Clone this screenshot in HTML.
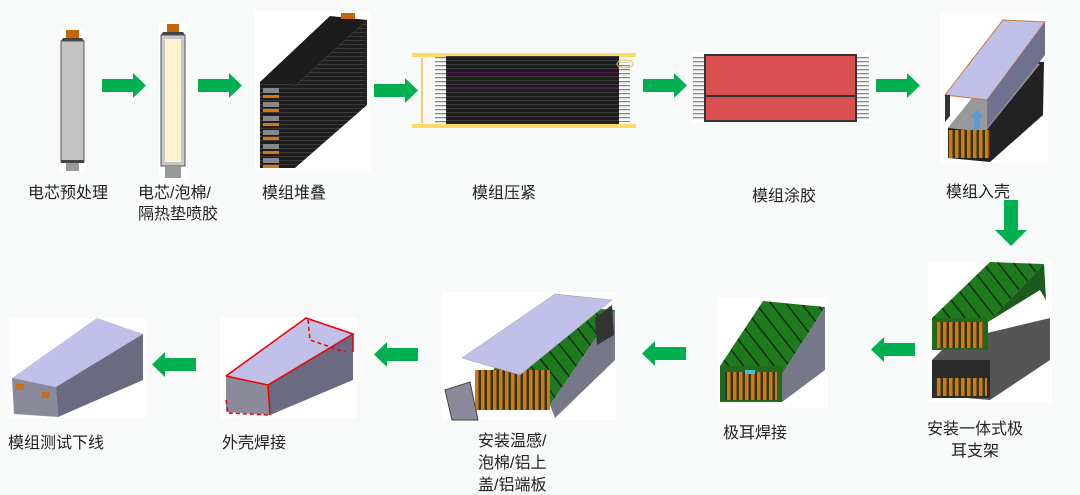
<!DOCTYPE html>
<html><head><meta charset="utf-8"><style>
html,body{margin:0;padding:0;background:#f8fafa}
svg{display:block}
text{font-family:"Liberation Sans","Noto Sans CJK SC",sans-serif;font-size:16px;fill:#222}
</style></head><body>
<svg width="1080" height="495" viewBox="0 0 1080 495" xmlns="http://www.w3.org/2000/svg">
<defs>
<g id="ar"><polygon points="0,6 31,6 31,0 44,12.5 31,25 31,19 0,19" fill="#00b050"/></g>
<pattern id="blk" width="4" height="4" patternUnits="userSpaceOnUse"><rect width="4" height="4" fill="#1e1e1e"/><rect width="4" height="1" fill="#3a3a3a"/></pattern>
<pattern id="wl" width="4" height="4" patternUnits="userSpaceOnUse"><rect width="4" height="4" fill="#f8fafa"/><rect y="1" width="4" height="1.3" fill="#888"/></pattern>
<pattern id="grn" width="12" height="12" patternUnits="userSpaceOnUse" patternTransform="rotate(-38)"><rect width="12" height="12" fill="#1f7a1f"/><rect width="1.5" height="12" fill="#0d2d0d"/></pattern>
<pattern id="org" width="6" height="6" patternUnits="userSpaceOnUse"><rect width="6" height="6" fill="#2a3a20"/><rect x="1" width="3.5" height="6" fill="#d9770e"/></pattern>
</defs>

<!-- row1 arrows -->
<use href="#ar" x="102" y="73"/>
<use href="#ar" x="198" y="73"/>
<use href="#ar" x="374" y="78"/>
<use href="#ar" x="643" y="73"/>
<use href="#ar" x="876" y="73"/>
<!-- down arrow -->
<polygon points="1004,200 1018,200 1018,230 1027,230 1011,246 995,230 1004,230" fill="#00b050"/>
<!-- row2 arrows (left) -->
<g transform="translate(915,337) scale(-1,1)"><use href="#ar"/></g>
<g transform="translate(686,341) scale(-1,1)"><use href="#ar"/></g>
<g transform="translate(418,342) scale(-1,1)"><use href="#ar"/></g>
<g transform="translate(196,352) scale(-1,1)"><use href="#ar"/></g>

<!-- cell 1 -->
<rect x="60" y="29" width="25" height="142" fill="#fff"/>
<rect x="66" y="30" width="13" height="9" fill="#c8640a"/>
<polygon points="61,41 63,38 82,38 84,41" fill="#444"/>
<rect x="61" y="41" width="23" height="121" fill="#c4c4c4" stroke="#555" stroke-width="1"/>
<rect x="61" y="160" width="23" height="3" fill="#444"/>
<rect x="66" y="163" width="13" height="8" fill="#999"/>
<!-- cell 2 -->
<rect x="159" y="23" width="28" height="156" fill="#fff"/>
<rect x="167" y="24" width="12" height="9" fill="#c8640a"/>
<polygon points="161,35 163,32 183,32 185,35" fill="#444"/>
<rect x="161" y="35" width="24" height="131" fill="#c8c8c8" stroke="#555"/>
<rect x="165" y="39" width="16" height="123" fill="#fff0d0"/>
<rect x="165" y="166" width="16" height="12" fill="#999"/>

<!-- stack -->
<rect x="255" y="11" width="115" height="160" fill="#fff"/>
<polygon points="260,82 330,16 367,20 295,86" fill="#1c1c1c"/>
<polygon points="295,86 367,20 367,105 295,168" fill="url(#blk)"/>
<rect x="341" y="13" width="14" height="6" fill="#c8640a"/>
<rect x="260" y="82" width="35" height="86" fill="url(#blk)"/>
<g fill="#888"><rect x="263" y="88" width="16" height="5"/><rect x="263" y="102" width="16" height="5"/><rect x="263" y="116" width="16" height="5"/><rect x="263" y="130" width="16" height="5"/><rect x="263" y="144" width="16" height="5"/><rect x="263" y="158" width="16" height="5"/></g>
<g fill="#d9770e"><rect x="263" y="95" width="16" height="3"/><rect x="263" y="109" width="16" height="3"/><rect x="263" y="123" width="16" height="3"/><rect x="263" y="137" width="16" height="3"/><rect x="263" y="151" width="16" height="3"/><rect x="263" y="165" width="16" height="3"/></g>

<!-- compress -->
<rect x="412" y="53" width="224" height="4" fill="#ffd966"/>
<rect x="412" y="124" width="224" height="4" fill="#ffd966"/>
<line x1="422" y1="58" x2="422" y2="123" stroke="#f0c040" stroke-width="1.5"/>
<rect x="435" y="57" width="12" height="67" fill="url(#wl)"/>
<rect x="618" y="62" width="12" height="60" fill="url(#wl)"/>
<rect x="446" y="56" width="173" height="68" fill="url(#blk)"/>
<rect x="446" y="87" width="173" height="1.5" fill="#5a1060"/>
<rect x="446" y="72" width="173" height="1" fill="#5a1060"/>
<ellipse cx="625" cy="64" rx="8" ry="4" fill="none" stroke="#f0c040"/>

<!-- red glue -->
<rect x="692" y="52" width="178" height="70" fill="#fff"/>
<rect x="693" y="56" width="14" height="64" fill="url(#wl)"/>
<rect x="855" y="56" width="14" height="64" fill="url(#wl)"/>
<rect x="705" y="55" width="151" height="66" fill="#d85050" stroke="#333" stroke-width="2"/>
<line x1="705" y1="96" x2="856" y2="96" stroke="#333" stroke-width="2"/>

<!-- into shell -->
<rect x="940" y="13" width="108" height="150" fill="#fff"/>
<polygon points="948,128 1003,60 1044,62 1043,115 990,162 948,158" fill="#222"/>
<polygon points="948,128 1003,60 1040,64 985,132" fill="#999"/>
<rect x="948" y="130" width="42" height="28" fill="url(#org)"/>
<polygon points="945,95 1003,20 1045,22 987,100" fill="#c0c0e8" stroke="#c8743a"/>
<polygon points="987,100 1045,22 1045,55 987,128" fill="#707090"/>
<polygon points="945,95 950,95 950,116 945,122" fill="#333"/>
<polygon points="970,118 977,110 984,118 980,118 980,130 974,130 974,118" fill="#5b9bd5"/>

<!-- bracket install -->
<rect x="928" y="262" width="124" height="140" fill="#fff"/>
<polygon points="932,395 932,360 950,342 1050,318 1050,360 990,400" fill="#555"/>
<rect x="932" y="360" width="58" height="38" fill="#2a2a2a"/>
<rect x="935" y="378" width="52" height="18" fill="url(#org)"/>
<polygon points="932,318 990,262 1044,264 988,322" fill="url(#grn)"/>
<polygon points="988,322 1044,264 1046,300 1040,290" fill="#1a5a1a"/>
<rect x="932" y="318" width="56" height="32" fill="#1f6a1f"/>
<rect x="937" y="322" width="46" height="26" fill="url(#org)"/>

<!-- tab welding -->
<rect x="718" y="298" width="110" height="110" fill="#fff"/>
<polygon points="720,366 763,301 825,307 782,374" fill="url(#grn)"/>
<polygon points="782,374 825,307 825,370 782,402" fill="#77778a"/>
<rect x="720" y="366" width="62" height="36" fill="#1f6a1f"/>
<rect x="725" y="372" width="52" height="28" fill="url(#org)"/>
<rect x="745" y="370" width="10" height="4" fill="#40c0d0"/>

<!-- temp/foam/lid -->
<rect x="442" y="292" width="174" height="128" fill="#fff"/>
<polygon points="475,395 540,305 615,310 550,405" fill="url(#grn)"/>
<polygon points="550,405 615,310 615,360 555,418" fill="#77778a"/>
<rect x="475" y="370" width="75" height="40" fill="url(#org)"/>
<polygon points="462,358 555,294 612,300 520,375" fill="#c0c0e8" stroke="#999" stroke-width=".5"/>
<polygon points="595,318 612,305 614,335 597,345" fill="#333"/>
<polygon points="445,390 470,382 478,420 452,420" fill="#8a8a9a" stroke="#444"/>

<!-- shell welding -->
<rect x="220" y="318" width="137" height="100" fill="#fff"/>
<polygon points="226,376 306,318 353,334 268,385" fill="#c0c0e8"/>
<polygon points="268,385 353,334 353,380 270,415" fill="#6a6a80"/>
<polygon points="226,376 268,385 270,415 226,412" fill="#8a8a9a"/>
<polyline points="226,376 306,318 353,334 268,385 226,376" fill="none" stroke="#e00" stroke-width="1.5"/>
<line x1="268" y1="385" x2="270" y2="415" stroke="#e00" stroke-width="1.5"/>
<line x1="353" y1="334" x2="353" y2="352" stroke="#e00" stroke-width="1.5"/>
<polyline points="308,320 310,340 345,352" fill="none" stroke="#e00" stroke-width="1.5" stroke-dasharray="4,3"/>
<polyline points="226,400 228,413 268,415" fill="none" stroke="#e00" stroke-width="1.5" stroke-dasharray="4,3"/>

<!-- final -->
<rect x="10" y="318" width="136" height="100" fill="#fff"/>
<polygon points="12,378 97,318 143,334 56,387" fill="#c0c0e8"/>
<polygon points="56,387 143,334 143,380 58,417" fill="#6a6a80"/>
<polygon points="12,378 56,387 58,417 14,414" fill="#8a8a9a"/>
<rect x="16" y="384" width="8" height="6" fill="#c87020"/><rect x="42" y="392" width="8" height="6" fill="#c87020"/>

<!-- labels -->
<text x="28" y="198">电芯预处理</text>
<text x="138" y="198">电芯/泡棉/</text>
<text x="138" y="219">隔热垫喷胶</text>
<text x="262" y="198">模组堆叠</text>
<text x="472" y="198">模组压紧</text>
<text x="752" y="201">模组涂胶</text>
<text x="946" y="197">模组入壳</text>
<text x="927" y="434">安装一体式极</text>
<text x="951" y="456">耳支架</text>
<text x="723" y="438">极耳焊接</text>
<text x="478" y="446">安装温感/</text>
<text x="478" y="468">泡棉/铝上</text>
<text x="478" y="490">盖/铝端板</text>
<text x="222" y="448">外壳焊接</text>
<text x="8" y="448">模组测试下线</text>
</svg>
</body></html>
